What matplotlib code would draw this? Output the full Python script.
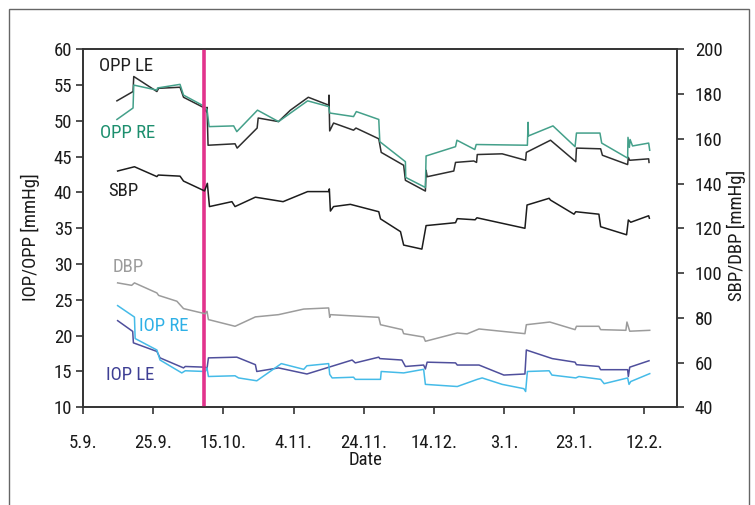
import matplotlib
matplotlib.use("Agg")
import matplotlib.pyplot as plt
from matplotlib import font_manager
from matplotlib.patches import Rectangle

# Pick a narrow sans face if one is installed
_available = {f.name for f in font_manager.fontManager.ttflist}
_family = "DejaVu Sans"
for cand in ["Roboto Condensed", "Liberation Sans Narrow", "DejaVu Sans Condensed", "Open Sans Condensed"]:
    if cand in _available:
        _family = cand
        break
plt.rcParams["font.family"] = [_family, "DejaVu Sans"]

# Days counted from 5 September
tick_days = [0, 20, 40, 60, 80, 100, 120, 140, 160]
tick_labels = ["5.9.", "25.9.", "15.10.", "4.11.", "24.11.", "14.12.", "3.1.", "23.1.", "12.2."]
marker_day = 34.4

opp_le_day = [9.6, 14.2, 14.4, 21.0, 21.5, 27.6, 28.6, 34.2, 35.1, 35.3, 35.6, 43.3, 43.9, 49.6, 49.9,
              55.7, 59.1, 64.2, 70.0, 70.1, 70.3, 71.4, 77.1, 77.8, 84.3, 85.0, 91.4, 91.9, 97.6, 97.8,
              98.1, 105.7, 106.2, 111.4, 112.2, 112.4, 119.5, 126.2, 126.4, 133.3, 140.5, 140.7, 147.6,
              148.1, 155.3, 155.5, 155.9, 161.3, 161.4]
opp_le = [52.8, 54.1, 56.2, 54.1, 54.55, 54.7, 53.3, 51.9, 51.3, 51.9, 46.6, 46.8, 46.2, 49.0, 50.4,
          49.9, 51.5, 53.3, 52.2, 53.6, 48.6, 49.7, 48.7, 49.0, 47.5, 45.6, 43.8, 41.7, 40.2, 43.1,
          42.2, 43.0, 44.2, 44.4, 44.2, 45.3, 45.4, 44.5, 45.6, 47.3, 44.3, 46.2, 46.1,
          45.2, 43.9, 44.9, 44.5, 44.7, 44.2]

opp_re_day = [9.6, 14.2, 14.4, 21.0, 21.2, 27.6, 28.6, 34.3, 35.3, 35.9, 42.9, 43.8, 49.7, 55.7, 64.0,
              70.0, 70.3, 77.1, 77.9, 84.3, 84.6, 91.9, 92.0, 97.6, 97.8, 106.2, 106.6, 111.7, 112.1,
              126.7, 126.9, 127.0, 134.0, 140.3, 140.7, 147.4, 147.9, 155.3, 155.4, 155.8, 156.0,
              156.7, 161.3, 161.6]
opp_re = [50.2, 51.8, 55.0, 54.3, 54.6, 55.1, 53.6, 52.1, 51.6, 49.2, 49.3, 48.5, 51.5, 49.9, 52.8,
          52.0, 51.1, 50.6, 51.3, 50.2, 47.1, 44.3, 42.1, 40.7, 45.1, 46.4, 47.3, 46.0, 46.7,
          46.6, 49.8, 47.9, 49.3, 46.4, 48.3, 48.3, 46.9, 44.8, 47.7, 46.3, 47.4,
          46.5, 46.9, 45.9]

iop_le_day = [9.8, 14.1, 14.3, 21.0, 21.9, 28.6, 29.1, 34.8, 35.3, 35.7, 43.8, 49.1, 49.5, 55.7, 63.8,
              76.7, 77.6, 84.3, 84.6, 90.9, 91.9, 97.1, 97.6, 98.1, 106.2, 106.7, 112.9, 120.0, 126.0,
              126.4, 133.8, 140.3, 140.7, 147.1, 147.6, 155.3, 155.5, 155.9, 161.4]
iop_le = [22.1, 20.6, 19.0, 17.8, 16.9, 15.5, 15.7, 15.6, 15.4, 16.9, 17.0, 15.95, 15.0, 15.5, 14.65,
          16.6, 16.2, 17.0, 16.8, 16.6, 15.7, 15.9, 15.35, 16.3, 16.2, 15.9, 15.9, 14.5, 14.65,
          18.0, 16.8, 16.3, 15.95, 15.7, 15.25, 15.25, 14.3, 15.6, 16.5]

iop_re_day = [9.8, 14.6, 14.8, 21.0, 21.9, 28.1, 29.1, 34.8, 35.3, 35.7, 43.3, 44.3, 49.5, 56.5, 62.9,
              63.8, 70.0, 70.3, 71.0, 77.1, 77.6, 84.8, 85.0, 91.4, 97.1, 97.6, 106.7, 112.4, 113.8,
              119.5, 125.7, 126.2, 126.7, 132.9, 133.7, 140.5, 141.4, 147.6, 148.6, 155.3, 155.7,
              156.2, 161.6]
iop_re = [24.2, 22.6, 19.6, 18.0, 16.6, 14.8, 15.1, 15.0, 15.5, 14.3, 14.4, 14.1, 13.7, 16.1, 15.3,
          15.8, 16.1, 14.6, 14.1, 14.2, 13.9, 13.9, 15.0, 14.8, 15.3, 13.2, 12.9, 13.9, 14.1,
          13.2, 12.6, 12.2, 15.0, 15.1, 14.5, 14.1, 14.3, 13.9, 13.3, 14.1, 13.2,
          13.6, 14.7]

sbp_day = [9.8, 14.6, 21.0, 21.4, 27.6, 28.6, 34.6, 35.4, 36.0, 42.4, 43.3, 49.1, 57.0, 64.0, 70.1,
           70.2, 70.5, 71.4, 76.2, 84.3, 84.8, 90.5, 91.4, 96.6, 97.8, 106.2, 106.7, 111.8, 112.3,
           126.0, 126.6, 132.9, 133.3, 140.0, 140.5, 147.1, 147.6, 155.0, 155.5, 156.2, 161.3, 161.5]
sbp = [145.6, 147.5, 143.1, 143.8, 143.3, 141.1, 136.7, 140.1, 129.7, 131.9, 129.7, 133.9, 131.9, 136.4,
       136.4, 137.6, 127.7, 129.7, 130.7, 127.4, 124.2, 118.5, 112.5, 110.7, 121.2, 122.5, 124.3,
       123.8, 124.7, 120.0, 130.4, 133.4, 132.6, 126.3, 127.4, 126.3, 120.7, 117.1, 123.7, 122.7,
       125.6, 124.5]

dbp_day = [9.8, 13.8, 14.6, 21.0, 21.5, 26.7, 28.6, 34.8, 35.3, 35.7, 43.3, 49.1, 55.7, 62.9, 70.0,
           70.3, 70.5, 84.3, 84.8, 91.0, 91.4, 97.1, 97.6, 106.7, 109.5, 112.9, 126.0, 126.4, 133.1,
           140.3, 140.7, 147.1, 147.6, 154.8, 155.1, 155.9, 161.6]
dbp = [95.6, 94.5, 95.6, 91.1, 90.0, 87.4, 84.1, 81.8, 82.9, 79.2, 76.2, 80.4, 81.4, 83.9, 84.4,
       80.2, 81.4, 80.2, 76.9, 74.7, 72.9, 71.4, 69.5, 73.2, 72.8, 75.0, 72.9, 76.9, 78.1,
       74.7, 76.2, 76.2, 74.7, 74.4, 78.1, 74.0, 74.4]

FS = 13.5
TXT = "#1a1a1a"

fig = plt.figure(figsize=(7.55, 5.05), dpi=100)
ax = fig.add_axes([0.1103, 0.1935, 0.7860, 0.7089])
ax2 = ax.twinx()

lw = 1.1
ax.plot(opp_le_day, opp_le, color="#2e2e2e", lw=lw, zorder=3)
ax.plot(opp_re_day, opp_re, color="#44a08a", lw=lw, zorder=3)
ax.plot(iop_le_day, iop_le, color="#4f4f9c", lw=lw, zorder=3)
ax.plot(iop_re_day, iop_re, color="#45bbe8", lw=lw, zorder=3)
ax2.plot(sbp_day, sbp, color="#1c1c1c", lw=lw)
ax2.plot(dbp_day, dbp, color="#9c9c9c", lw=lw)
ax.axvline(marker_day, color="#e2338c", lw=2.6, zorder=4)

ax.set_xlim(0, 169.3)
ax.set_ylim(10, 60)
ax2.set_ylim(40, 200)
ax.set_xticks(tick_days)
ax.set_xticklabels(tick_labels)
ax.set_yticks(range(10, 61, 5))
ax2.set_yticks(range(40, 201, 20))

for a in (ax, ax2):
    for s in a.spines.values():
        s.set_color("#333333")
        s.set_linewidth(1.2)
    a.tick_params(direction="out", length=5, width=1.2, color="#333333",
                  labelsize=FS, labelcolor=TXT)
ax.tick_params(axis="x", pad=14)
ax.tick_params(axis="y", pad=3)
ax2.tick_params(axis="y", pad=8)

ax.set_ylabel("IOP/OPP [mmHg]", fontsize=FS, color=TXT)
ax.yaxis.set_label_coords(-0.0898, 0.4765)
ax.yaxis.label.set_verticalalignment("center")
ax2.set_ylabel("SBP/DBP [mmHg]", fontsize=FS, color=TXT, rotation=90)
ax2.yaxis.set_label_coords(1.101, 0.481)
ax2.yaxis.label.set_verticalalignment("center")
ax.set_xlabel("Date", fontsize=FS, color=TXT)
ax.xaxis.set_label_coords(0.4764, -0.147)
ax.xaxis.label.set_verticalalignment("center")

# Series names written next to their curves
labels = [("OPP LE", 12.2, 57.6, "#1f1f1f"),
          ("OPP RE", 12.7, 48.3, "#1d8f6e"),
          ("SBP", 11.3, 40.25, "#1f1f1f"),
          ("DBP", 12.7, 29.6, "#9c9c9c"),
          ("IOP RE", 23.0, 21.35, "#2eb0e6"),
          ("IOP LE", 13.3, 14.5, "#3e3f94")]
for text, xd, yv, col in labels:
    ax.text(xd, yv, text, ha="center", va="center", fontsize=FS, color=col, zorder=5)

# Thin frame around the figure, open at the bottom
frame = Rectangle((8.5 / 755, -0.05), (748.5 - 8.5) / 755, 1.05 - 8.5 / 505,
                  transform=fig.transFigure, fill=False, edgecolor="#666666", lw=1.0,
                  clip_on=False)
fig.patches.append(frame)

fig.savefig("out.png", dpi=100)
